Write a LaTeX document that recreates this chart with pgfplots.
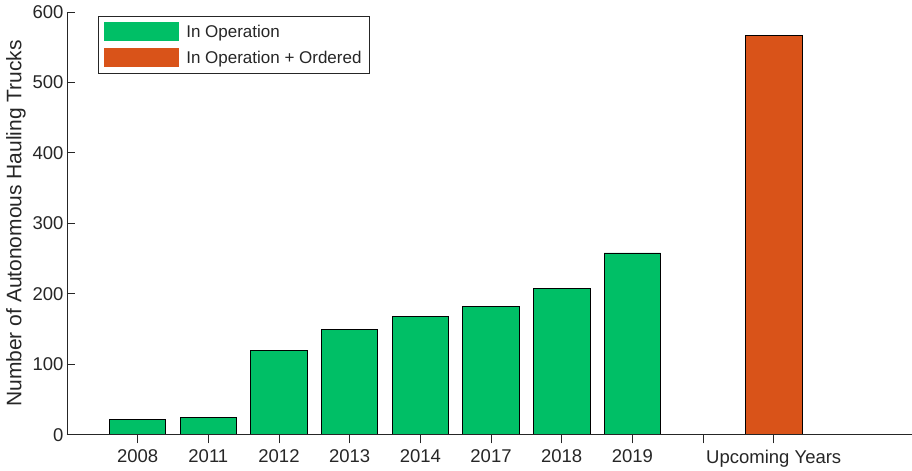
\documentclass[border=0pt]{standalone}
\usepackage{fontspec}
\setmainfont{Liberation Sans}
\usepackage{pgfplots}
\pgfplotsset{compat=1.18}
\definecolor{opgreen}{HTML}{00BF66}
\definecolor{oporange}{HTML}{D95319}
\definecolor{axgray}{HTML}{262626}

\begin{document}
\begin{tikzpicture}
\begin{axis}[
  name=ax,
  scale only axis,
  width=845pt, height=423pt,
  xmin=0, xmax=11.95, ymin=0, ymax=600,
  axis lines=left,
  axis line style={-, axgray, line width=0.9pt},
  axis on top,
  xtick={1,...,10},
  xticklabels={2008,2011,2012,2013,2014,2017,2018,2019,{},Upcoming Years},
  ytick={0,100,...,600},
  tick align=inside,
  major tick length=8.5pt,
  tick style={axgray, line width=0.9pt},
  /pgf/number format/assume math mode=true,
  ticklabel style={font=\fontsize{18.5}{22}\selectfont, text=axgray},
  xticklabel style={yshift=-3pt},
  ylabel={Number of Autonomous Hauling Trucks},
  ylabel style={font=\fontsize{21}{25}\selectfont, text=axgray},
  ybar, bar width=0.8, bar shift=0pt,
  legend style={at={(axis description cs:0,1)}, anchor=north west,
    xshift=31pt, yshift=-4pt, draw=axgray, line width=0.8pt,
    font=\fontsize{17}{20}\selectfont, text=axgray,
    inner xsep=6pt, inner ysep=6pt, row sep=7pt},
  legend cell align=left,
  legend image code/.code={\fill[#1, draw=none] (0pt,-9.5pt) rectangle (75pt,9.5pt);
    \path[draw=none, fill=none] (0pt,0pt) -- (80pt,0pt);},
]
\addplot[fill=opgreen, draw=black, line width=0.9pt] coordinates {
  (1,22) (2,25) (3,120) (4,150) (5,168) (6,182) (7,208) (8,258) (9,0)
};
\addlegendentry{In Operation}
\addplot[fill=oporange, draw=black, line width=0.9pt] coordinates {
  (10,566)
};
\addlegendentry{In Operation + Ordered}
\end{axis}
\path ([shift={(-67pt,-31pt)}]ax.south west) rectangle ([shift={(0pt,12pt)}]ax.north east);
\end{tikzpicture}
\end{document}
